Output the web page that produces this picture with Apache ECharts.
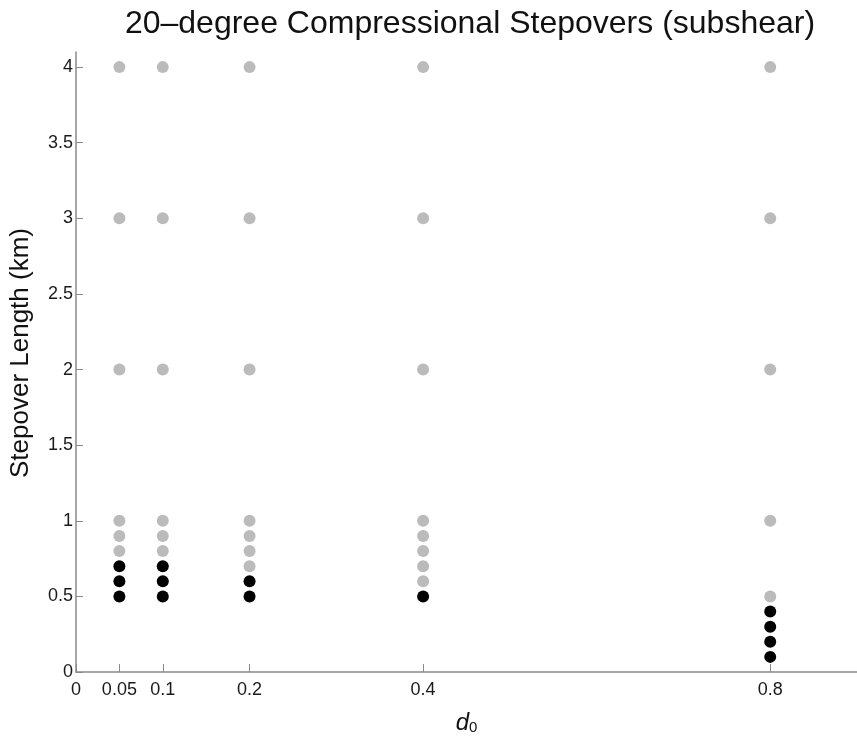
<!DOCTYPE html>
<html>
<head>
<meta charset="utf-8">
<script src="https://cdn.jsdelivr.net/npm/echarts@6/dist/echarts.min.js"></script>
<style>
html,body{margin:0;padding:0;background:#fff;}
#chart{width:857px;height:740px;}
</style>
</head>
<body>
<div id="chart"></div>
<script>
const titleText = '20\u2013degree Compressional Stepovers (subshear)';
const xTicks = [0, 0.05, 0.1, 0.2, 0.4, 0.8];
const yTicks = [0, 0.5, 1, 1.5, 2, 2.5, 3, 3.5, 4];
// gray: simulations without through-going rupture; black: with
const grayX = [0.05,0.05,0.05,0.05,0.05,0.05, 0.1,0.1,0.1,0.1,0.1,0.1, 0.2,0.2,0.2,0.2,0.2,0.2,0.2, 0.4,0.4,0.4,0.4,0.4,0.4,0.4,0.4, 0.8,0.8,0.8,0.8,0.8];
const grayY = [4,3,2,1,0.9,0.8, 4,3,2,1,0.9,0.8, 4,3,2,1,0.9,0.8,0.7, 4,3,2,1,0.9,0.8,0.7,0.6, 4,3,2,1,0.5];
const blackX = [0.05,0.05,0.05, 0.1,0.1,0.1, 0.2,0.2, 0.4, 0.8,0.8,0.8,0.8];
const blackY = [0.7,0.6,0.5, 0.7,0.6,0.5, 0.6,0.5, 0.5, 0.4,0.3,0.2,0.1];

const FONT = '"Liberation Sans", Arial, Helvetica, sans-serif';
const zip = (xs, ys) => xs.map((x, i) => [x, ys[i]]);

const chart = echarts.init(document.getElementById('chart'), null, {renderer: 'canvas'});
chart.setOption({
  animation: false,
  backgroundColor: '#ffffff',
  title: {
    text: titleText,
    left: 465, top: 3,
    textAlign: 'center',
    textStyle: {fontFamily: FONT, fontSize: 32, fontWeight: 'normal', color: '#111'}
  },
  grid: {left: 70, top: 52, width: 789, bottom: 57, containLabel: false},
  xAxis: {
    type: 'value', min: 0, max: 0.9,
    name: '{d|d}{s|0}',
    nameLocation: 'middle', nameGap: 36,
    nameTextStyle: {
      rich: {
        d: {fontFamily: FONT, fontSize: 24, fontStyle: 'italic', color: '#111', verticalAlign: 'bottom'},
        s: {fontFamily: FONT, fontSize: 15, color: '#111', padding: [12, 0, 0, 0], verticalAlign: 'bottom'}
      }
    },
    axisLine: {show: true, lineStyle: {color: '#8a8a8a', width: 1.5}},
    axisTick: {show: true, inside: true, length: 8, customValues: xTicks, lineStyle: {color: '#8a8a8a'}},
    axisLabel: {show: true, customValues: xTicks, margin: 9, fontFamily: FONT, fontSize: 18, color: '#1a1a1a',
      formatter: v => String(v)},
    splitLine: {show: false}
  },
  yAxis: {
    type: 'value', min: 0, max: 4.1,
    name: 'Stepover Length (km)',
    nameLocation: 'middle', nameGap: 42, nameRotate: 90,
    nameTextStyle: {fontFamily: FONT, fontSize: 26, color: '#111', padding: [0, 0, 0, 18]},
    axisLine: {show: true, lineStyle: {color: '#8a8a8a', width: 1.5}},
    axisTick: {show: true, inside: true, length: 7, customValues: yTicks, lineStyle: {color: '#8a8a8a'}},
    axisLabel: {show: true, customValues: yTicks, margin: 3, fontFamily: FONT, fontSize: 18, color: '#1a1a1a',
      formatter: v => String(v)},
    splitLine: {show: false}
  },
  series: [
    {type: 'scatter', data: zip(grayX, grayY), symbol: 'circle', symbolSize: 12,
     itemStyle: {color: '#bbbbbb', opacity: 1}},
    {type: 'scatter', data: zip(blackX, blackY), symbol: 'circle', symbolSize: 12,
     itemStyle: {color: '#000000', opacity: 1}}
  ]
});
</script>
</body>
</html>
